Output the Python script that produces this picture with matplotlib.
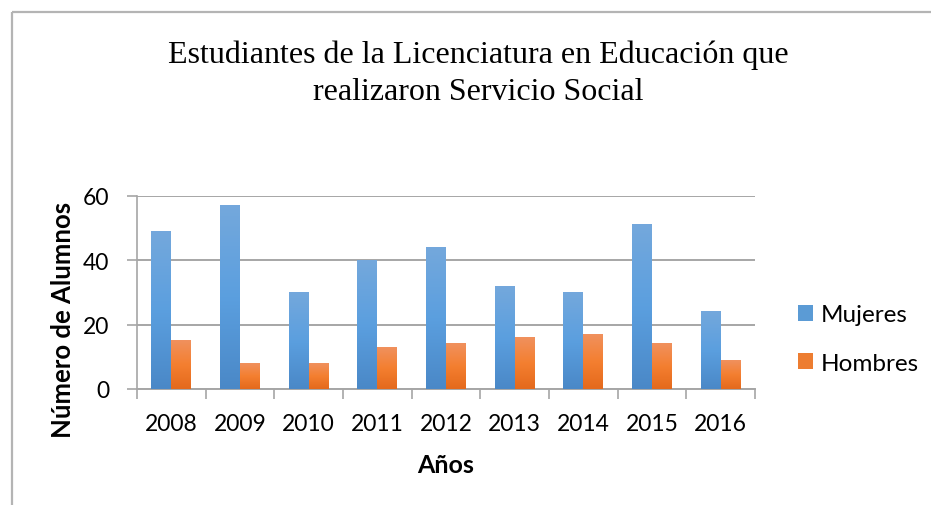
import matplotlib
matplotlib.use("Agg")
import matplotlib.pyplot as plt
import numpy as np
from matplotlib.colors import LinearSegmentedColormap
from matplotlib.patches import Patch
from matplotlib.lines import Line2D

years = ["2008", "2009", "2010", "2011", "2012", "2013", "2014", "2015", "2016"]
mujeres = [49, 57, 30, 40, 44, 32, 30, 51, 24]
hombres = [15, 8, 8, 13, 14, 16, 17, 14, 9]
yticks = [0, 20, 40, 60]
title_lines = ["Estudiantes de la Licenciatura en Educación que",
               "realizaron Servicio Social"]
ylabel = "Número de Alumnos"
xlabel = "Años"
series_names = ["Mujeres", "Hombres"]

SANS = "Lato"
SERIF = "Liberation Serif"

fig = plt.figure(figsize=(9.32, 5.06), dpi=100)
fig.patch.set_facecolor("white")

# outer chart frame (left and top edges visible)
fx, fy = 11.5/932, 1 - 12.5/506
fig.lines.append(Line2D([fx, fx], [-0.1, fy], transform=fig.transFigure,
                        color="#b4b4b4", lw=1.6, solid_capstyle="butt"))
fig.lines.append(Line2D([fx, 0.999], [fy, fy], transform=fig.transFigure,
                        color="#b4b4b4", lw=1.6, solid_capstyle="butt"))

ax = fig.add_axes([137/932, 1 - 390/506, (755 - 137)/932, (390 - 197)/506])

x = np.arange(len(years))
w = 0.29
blue_cmap = LinearSegmentedColormap.from_list("b", ["#4a88c7", "#5b9fdf", "#74a8dc"])
orange_cmap = LinearSegmentedColormap.from_list("o", ["#e4691c", "#f47f30", "#f0915e"])
grad = np.linspace(0, 1, 256).reshape(-1, 1)

b1 = ax.bar(x - w/2, mujeres, w, color="#5b9bd5", zorder=3)
b2 = ax.bar(x + w/2, hombres, w, color="#ed7d31", zorder=3)
for bars, cmap in ((b1, blue_cmap), (b2, orange_cmap)):
    for r in bars:
        x0, y0, ww, hh = r.get_x(), r.get_y(), r.get_width(), r.get_height()
        ax.imshow(grad, extent=[x0, x0 + ww, y0, y0 + hh], origin="lower",
                  cmap=cmap, aspect="auto", zorder=4, interpolation="bicubic")

ax.set_xlim(-0.5, len(years) - 0.5)
ax.set_ylim(0, 60)
ax.set_yticks(yticks)
ax.set_yticklabels([str(v) for v in yticks])
ax.yaxis.grid(True, color="#a6a6a6", lw=1.4, zorder=1)
ax.set_axisbelow(True)

ax.set_xticks(x)
ax.set_xticklabels(years)
ax.set_xticks(np.arange(len(years) + 1) - 0.5, minor=True)
ax.tick_params(axis="x", which="major", length=0, pad=17, labelsize=16.5, labelcolor="black")
ax.tick_params(axis="x", which="minor", length=7, width=1.2, color="#a6a6a6")
ax.tick_params(axis="y", which="major", length=7, width=1.2, color="#a6a6a6", pad=13,
               labelsize=16.5)
for lab in ax.get_xticklabels() + ax.get_yticklabels():
    lab.set_fontfamily(SANS)

for s in ["top", "right"]:
    ax.spines[s].set_visible(False)
ax.spines["left"].set_color("#a6a6a6")
ax.spines["bottom"].set_color("#a6a6a6")
ax.spines["left"].set_linewidth(1.2)
ax.spines["bottom"].set_linewidth(1.4)

fig.text(478/932, 1 - 63/506, title_lines[0], ha="center", va="baseline",
         fontsize=23, family=SERIF, color="black")
fig.text(478/932, 1 - 100/506, title_lines[1], ha="center", va="baseline",
         fontsize=23, family=SERIF, color="black")
fig.text(63/932, 1 - 320/506, ylabel, rotation=90, ha="center", va="center",
         fontsize=18.5, fontweight="bold", family=SANS)
fig.text(446/932, 1 - 466/506, xlabel, ha="center", va="center",
         fontsize=18, fontweight="bold", family=SANS)

handles = [Patch(facecolor="#5b9bd5"), Patch(facecolor="#ed7d31")]
leg = fig.legend(handles, series_names, loc="center left",
                 bbox_to_anchor=(776/932, 1 - 340/506), frameon=False,
                 prop={"family": SANS, "size": 17.5}, handlelength=0.62,
                 handleheight=0.62, handletextpad=0.33, labelspacing=1.12)

fig.savefig("out.png", dpi=100, facecolor="white")
